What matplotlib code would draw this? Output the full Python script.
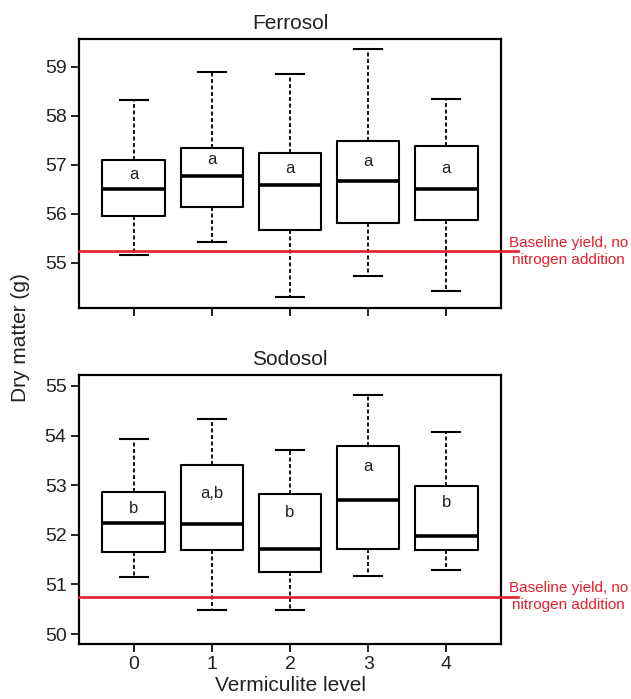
"""Dry matter by vermiculite level for two soils, drawn as box plots."""
import matplotlib

matplotlib.use("Agg")
import matplotlib.pyplot as plt

plt.rcParams["font.family"] = ["Liberation Sans", "DejaVu Sans"]

levels = [0, 1, 2, 3, 4]
level_labels = ["0", "1", "2", "3", "4"]

# Ferrosol box stats (g)
ferro_whislo = [55.17, 55.43, 54.31, 54.73, 54.42]
ferro_q1 = [55.95, 56.14, 55.67, 55.82, 55.88]
ferro_med = [56.50, 56.78, 56.60, 56.67, 56.50]
ferro_q3 = [57.10, 57.35, 57.25, 57.48, 57.39]
ferro_whishi = [58.32, 58.90, 58.86, 59.37, 58.34]
ferro_letters = ["a", "a", "a", "a", "a"]
ferro_letter_y = [56.80, 57.12, 56.93, 57.07, 56.93]
ferro_baseline = 55.24

# Sodosol
sodo_whislo = [51.15, 50.48, 50.48, 51.17, 51.29]
sodo_q1 = [51.65, 51.69, 51.26, 51.71, 51.69]
sodo_med = [52.24, 52.22, 51.72, 52.70, 51.98]
sodo_q3 = [52.86, 53.41, 52.83, 53.79, 52.99]
sodo_whishi = [53.93, 54.33, 53.71, 54.81, 54.08]
sodo_letters = ["b", "a,b", "b", "a", "b"]
sodo_letter_y = [52.53, 52.83, 52.45, 53.38, 52.65]
sodo_baseline = 50.75

RED = "#E4202C"
INK = "#222222"


def box_panel(ax, whislo, q1, med, q3, whishi, letters, letter_y, baseline,
              title, yticks, ylim, show_xlabels):
    stats = [
        {"whislo": lo, "q1": a, "med": m, "q3": b, "whishi": hi, "fliers": []}
        for lo, a, m, b, hi in zip(whislo, q1, med, q3, whishi)
    ]
    ax.bxp(
        stats, positions=levels, widths=0.8, capwidths=0.36, showfliers=False,
        boxprops=dict(color="black", linewidth=1.5),
        medianprops=dict(color="black", linewidth=2.6, solid_capstyle="butt"),
        whiskerprops=dict(color="black", linewidth=1.3, linestyle=(0, (2.2, 1.4))),
        capprops=dict(color="black", linewidth=1.5),
    )
    for x, lab, y in zip(levels, letters, letter_y):
        ax.text(x, y, lab, ha="center", va="center", fontsize=12, color=INK)

    # baseline runs a little past the right edge of the frame
    ax.plot([-0.7, 4.92], [baseline, baseline], color=RED, linewidth=1.9,
            clip_on=False, zorder=5)
    ax.text(5.565, baseline, "Baseline yield, no\nnitrogen addition", color=RED,
            fontsize=11, ha="center", va="center", linespacing=1.25,
            clip_on=False)

    ax.set_xlim(-0.7, 4.7)
    ax.set_ylim(*ylim)
    ax.set_yticks(yticks)
    ax.set_xticks(levels)
    ax.set_xticklabels(level_labels if show_xlabels else [])
    ax.set_title(title, fontsize=15, color=INK, pad=7)
    ax.tick_params(length=6, width=1.4, labelsize=14, colors=INK, pad=3)
    for sp in ax.spines.values():
        sp.set_linewidth(1.6)


fig = plt.figure(figsize=(6.31, 6.99), dpi=100)
ax1 = fig.add_axes([0.1252, 0.5594, 0.6688, 0.3848])
ax2 = fig.add_axes([0.1252, 0.0787, 0.6688, 0.3848])

box_panel(ax1, ferro_whislo, ferro_q1, ferro_med, ferro_q3, ferro_whishi,
          ferro_letters, ferro_letter_y, ferro_baseline, "Ferrosol",
          [55, 56, 57, 58, 59], (54.08, 59.57), False)
box_panel(ax2, sodo_whislo, sodo_q1, sodo_med, sodo_q3, sodo_whishi,
          sodo_letters, sodo_letter_y, sodo_baseline, "Sodosol",
          [50, 51, 52, 53, 54, 55], (49.80, 55.22), True)

ax2.set_xlabel("Vermiculite level", fontsize=15, color=INK, labelpad=2)
fig.text(0.032, 1 - 337.5 / 699, "Dry matter (g)", rotation=90, fontsize=15,
         color=INK, ha="center", va="center")

fig.savefig("out.png", dpi=100)
